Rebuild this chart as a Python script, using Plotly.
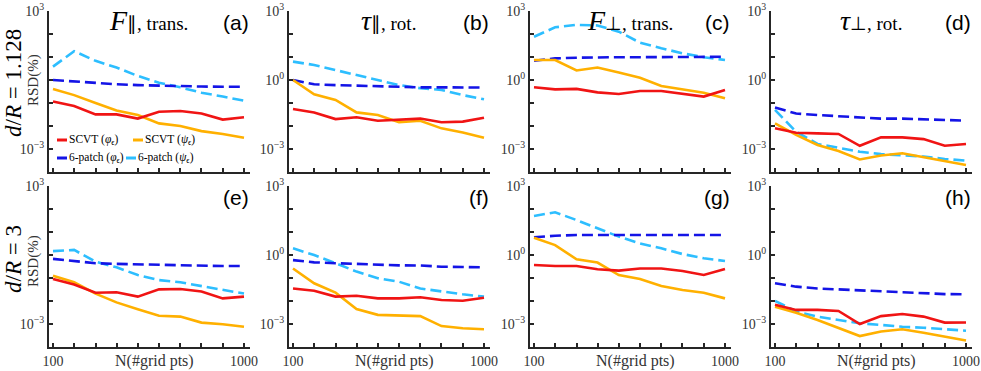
import plotly.graph_objects as go

# ---------------- data ----------------
N_PTS = [100, 129, 167, 215, 278, 359, 464, 599, 774, 1000]
X_TICK_TEXT = ["100", "", "", "", "", "", "", "", "", "1000"]
Y_TICK_VALS = [1e-4, 1e-3, 1e-2, 1e-1, 1e0, 1e1, 1e2, 1e3]
Y_TICK_TEXT = ["", "10<sup>−3</sup>", "", "", "10<sup>0</sup>", "", "", "10<sup>3</sup>"]
Y_TICK_TEXT_FIRST_COL = ["", "10<sup>−3</sup>", "", "", "", "", "", "10<sup>3</sup>"]

SERIES_NAMES = ["6-patch (ψ)", "6-patch (φ)", "SCVT (ψ)", "SCVT (φ)"]

# (a) F_par, trans., d/R=1.128
A_SCVT_PHI = [0.115, 0.074, 0.032, 0.032, 0.021, 0.042, 0.045, 0.035, 0.019, 0.024]
A_SCVT_PSI = [0.41, 0.22, 0.10, 0.047, 0.030, 0.013, 0.010, 0.006, 0.0045, 0.0031]
A_PATCH_PHI = [1.0, 0.85, 0.72, 0.65, 0.60, 0.56, 0.55, 0.52, 0.51, 0.51]
A_PATCH_PSI = [3.8, 18, 6.8, 3.5, 1.5, 0.76, 0.48, 0.28, 0.19, 0.126]
# (b) tau_par, rot., d/R=1.128
B_SCVT_PHI = [0.055, 0.039, 0.020, 0.024, 0.017, 0.0195, 0.021, 0.0145, 0.0155, 0.023]
B_SCVT_PSI = [1.0, 0.24, 0.135, 0.039, 0.030, 0.0145, 0.017, 0.0079, 0.0052, 0.0031]
B_PATCH_PHI = [1.0, 0.65, 0.60, 0.56, 0.55, 0.51, 0.48, 0.48, 0.47, 0.47]
B_PATCH_PSI = [6.3, 4.5, 2.7, 1.66, 1.0, 0.60, 0.44, 0.37, 0.22, 0.145]
# (c) F_perp, trans., d/R=1.128
C_SCVT_PHI = [0.48, 0.39, 0.41, 0.29, 0.245, 0.33, 0.33, 0.26, 0.19, 0.37]
C_SCVT_PSI = [7.4, 7.4, 2.6, 3.5, 2.1, 1.26, 0.55, 0.39, 0.28, 0.16]
C_PATCH_PHI = [6.9, 8.7, 9.3, 9.8, 9.8, 9.8, 9.8, 10, 10, 10.2]
C_PATCH_PSI = [76, 195, 250, 235, 126, 42, 24, 14.5, 9.8, 7.4]
# (d) tau_perp, rot., d/R=1.128
D_SCVT_PHI = [0.0079, 0.0051, 0.0048, 0.0045, 0.00138, 0.0032, 0.0032, 0.0027, 0.00138, 0.00166]
D_SCVT_PSI = [0.013, 0.0041, 0.0015, 0.00081, 0.00035, 0.00052, 0.00065, 0.00044, 0.0003, 0.0002]
D_PATCH_PHI = [0.063, 0.035, 0.030, 0.027, 0.024, 0.021, 0.021, 0.020, 0.018, 0.017]
D_PATCH_PSI = [0.050, 0.0056, 0.00166, 0.00115, 0.00076, 0.0006, 0.00055, 0.00047, 0.00037, 0.00031]
# (e) F_par, trans., d/R=3
E_SCVT_PHI = [0.091, 0.052, 0.023, 0.024, 0.0155, 0.032, 0.033, 0.026, 0.013, 0.0155]
E_SCVT_PSI = [0.126, 0.065, 0.021, 0.0087, 0.0044, 0.0023, 0.0021, 0.00115, 0.00098, 0.00076]
E_PATCH_PHI = [0.68, 0.55, 0.44, 0.41, 0.39, 0.37, 0.355, 0.35, 0.33, 0.33]
E_PATCH_PSI = [1.48, 1.66, 0.51, 0.29, 0.135, 0.081, 0.065, 0.045, 0.032, 0.021]
# (f) tau_par, rot., d/R=3
F_SCVT_PHI = [0.035, 0.028, 0.0155, 0.017, 0.013, 0.013, 0.0145, 0.011, 0.0102, 0.0138]
F_SCVT_PSI = [0.26, 0.059, 0.023, 0.0045, 0.0025, 0.0023, 0.0022, 0.00081, 0.00065, 0.00059]
F_PATCH_PHI = [0.60, 0.48, 0.44, 0.41, 0.37, 0.355, 0.35, 0.31, 0.30, 0.29]
F_PATCH_PSI = [1.95, 1.0, 0.44, 0.19, 0.098, 0.069, 0.035, 0.026, 0.0195, 0.0155]
# (g) F_perp, trans., d/R=3
G_SCVT_PHI = [0.37, 0.33, 0.33, 0.24, 0.21, 0.26, 0.26, 0.20, 0.135, 0.245]
G_SCVT_PSI = [5.6, 2.7, 0.65, 0.47, 0.135, 0.091, 0.045, 0.030, 0.023, 0.013]
G_PATCH_PHI = [5.9, 6.9, 7.4, 7.4, 7.4, 7.4, 7.4, 7.4, 7.4, 7.4]
G_PATCH_PSI = [50, 72, 33, 14.5, 6.3, 3.2, 1.95, 1.1, 0.72, 0.55]
# (h) tau_perp, rot., d/R=3
H_SCVT_PHI = [0.0068, 0.0041, 0.0041, 0.0037, 0.001, 0.0022, 0.0027, 0.0021, 0.00115, 0.00117]
H_SCVT_PSI = [0.0056, 0.0031, 0.0015, 0.00065, 0.0003, 0.00047, 0.00059, 0.00042, 0.00028, 0.00019]
H_PATCH_PHI = [0.059, 0.042, 0.035, 0.032, 0.028, 0.026, 0.024, 0.021, 0.020, 0.0195]
H_PATCH_PSI = [0.0102, 0.0035, 0.0021, 0.0015, 0.00107, 0.00091, 0.00076, 0.00069, 0.00059, 0.00051]

PANELS = [
    (A_PATCH_PSI, A_PATCH_PHI, A_SCVT_PSI, A_SCVT_PHI),
    (B_PATCH_PSI, B_PATCH_PHI, B_SCVT_PSI, B_SCVT_PHI),
    (C_PATCH_PSI, C_PATCH_PHI, C_SCVT_PSI, C_SCVT_PHI),
    (D_PATCH_PSI, D_PATCH_PHI, D_SCVT_PSI, D_SCVT_PHI),
    (E_PATCH_PSI, E_PATCH_PHI, E_SCVT_PSI, E_SCVT_PHI),
    (F_PATCH_PSI, F_PATCH_PHI, F_SCVT_PSI, F_SCVT_PHI),
    (G_PATCH_PSI, G_PATCH_PHI, G_SCVT_PSI, G_SCVT_PHI),
    (H_PATCH_PSI, H_PATCH_PHI, H_SCVT_PSI, H_SCVT_PHI),
]
PANEL_LABELS = ["(a)", "(b)", "(c)", "(d)", "(e)", "(f)", "(g)", "(h)"]
COL_TITLES = [
    ("<i>F</i>", "∥, trans."),
    ("<i>τ</i>", "∥, rot."),
    ("<i>F</i>", "⊥, trans."),
    ("<i>τ</i>", "⊥, rot."),
]
ROW_LABELS = ["<i>d</i>/<i>R</i> = 1.128", "<i>d</i>/<i>R</i> = 3"]

# ---------------- style ----------------
W, H = 981, 371
SERIF = "Liberation Serif"
SANS = "Liberation Sans"
AX = "#262626"
TXT = "#333333"
COLORS = ["#2DBEFF", "#1414E6", "#FFB000", "#F01414"]
DASHES = ["11px,5px", "11px,5px", "solid", "solid"]
COL_LEFT = [49, 289, 530, 771]
COL_W = 201
ROW_TOP = [11, 186]
ROW_H = 161


def px(x):
    return x / W


def py(y):
    return 1 - y / H


fig = go.Figure()
layout = dict(
    template="none",
    width=W, height=H, margin=dict(l=0, r=0, t=0, b=0, pad=0), autosize=False,
    paper_bgcolor="white", plot_bgcolor="white", showlegend=False,
    font=dict(family=SERIF, color=TXT),
)
annotations = []
shapes = []

for i, series in enumerate(PANELS):
    r, c = divmod(i, 4)
    sx = "" if i == 0 else str(i + 1)
    for s, vals in enumerate(series):
        fig.add_trace(go.Scatter(
            x=N_PTS, y=vals, mode="lines", name=SERIES_NAMES[s],
            line=dict(color=COLORS[s], width=2.6, dash=DASHES[s]),
            xaxis="x" + sx, yaxis="y" + sx,
        ))
    left = COL_LEFT[c]
    top = ROW_TOP[r]
    layout["xaxis" + sx] = dict(
        type="log", range=[2 - 4 / 191, 3 + 6 / 191], automargin=False,
        domain=[px(left), px(left + COL_W)], anchor="y" + sx,
        showline=True, linecolor=AX, linewidth=2, mirror=False,
        ticks="inside", ticklen=4, tickwidth=1.5, tickcolor=AX,
        tickvals=N_PTS, ticktext=X_TICK_TEXT, showticklabels=(r == 1),
        tickfont=dict(family=SERIF, size=14, color=TXT),
        showgrid=False, zeroline=False,
    )
    layout["yaxis" + sx] = dict(
        type="log", range=[-4, 3], automargin=False,
        domain=[py(top + ROW_H), py(top)], anchor="x" + sx,
        showline=True, linecolor=AX, linewidth=2, mirror=False,
        ticks="inside", ticklen=4, tickwidth=1.5, tickcolor=AX,
        tickvals=Y_TICK_VALS,
        ticktext=Y_TICK_TEXT_FIRST_COL if c == 0 else Y_TICK_TEXT,
        tickfont=dict(family=SERIF, size=14, color=TXT),
        showgrid=False, zeroline=False,
    )
    # panel label
    annotations.append(dict(
        x=px(left + COL_W + 1), y=py(top + 11), xref="paper", yref="paper",
        xanchor="right", yanchor="middle", showarrow=False,
        text=PANEL_LABELS[i], font=dict(family=SANS, size=21, color="black"),
    ))
    if r == 1:
        annotations.append(dict(
            x=px(left + COL_W / 2 + 5), y=py(361), xref="paper", yref="paper",
            xanchor="center", yanchor="middle", showarrow=False,
            text="N(#grid pts)", font=dict(family=SERIF, size=16, color=TXT),
        ))

# column titles
for c, (main, sub) in enumerate(COL_TITLES):
    annotations.append(dict(
        x=px(COL_LEFT[c] + COL_W / 2 - 1), y=py(21), xref="paper", yref="paper",
        xanchor="center", yanchor="middle", showarrow=False,
        text=f"<span style='font-size:28px'>{main}</span><span style='font-size:19px'>{sub}</span>",
        font=dict(family=SERIF, color="black"),
    ))

# row labels
for r, lab in enumerate(ROW_LABELS):
    annotations.append(dict(
        x=px(13), y=py([83, 259][r]), xref="paper", yref="paper",
        xanchor="center", yanchor="middle", showarrow=False, textangle=-90,
        text=lab, font=dict(family=SERIF, size=23, color="black"),
    ))
    annotations.append(dict(
        x=px(33), y=py([80, 261][r]), xref="paper", yref="paper",
        xanchor="center", yanchor="middle", showarrow=False, textangle=-90,
        text="RSD(%)", font=dict(family=SERIF, size=15, color=TXT),
    ))

# legend inside panel (a)
LEG = [
    (3, "SCVT (<i>φ</i><sub>ϵ</sub>)", 57, 140),
    (2, "SCVT (<i>ψ</i><sub>ϵ</sub>)", 133, 140),
    (1, "6-patch (<i>φ</i><sub>ϵ</sub>)", 57, 158),
    (0, "6-patch (<i>ψ</i><sub>ϵ</sub>)", 126, 158),
]
for s, text, lx, ly in LEG:
    shapes.append(dict(
        type="line", xref="paper", yref="paper",
        x0=px(lx), x1=px(lx + 10), y0=py(ly), y1=py(ly),
        line=dict(color=COLORS[s], width=3),
    ))
    annotations.append(dict(
        x=px(lx + 10), y=py(ly), xref="paper", yref="paper",
        xanchor="left", yanchor="middle", showarrow=False,
        text=text, font=dict(family=SERIF, size=11.5, color="black"),
    ))

layout["annotations"] = annotations
layout["shapes"] = shapes
fig.update_layout(**layout)
fig.write_html(
    "out.html",
    config={"displayModeBar": False},
    post_script="document.body.style.margin='0px';document.body.style.overflow='hidden';",
)
